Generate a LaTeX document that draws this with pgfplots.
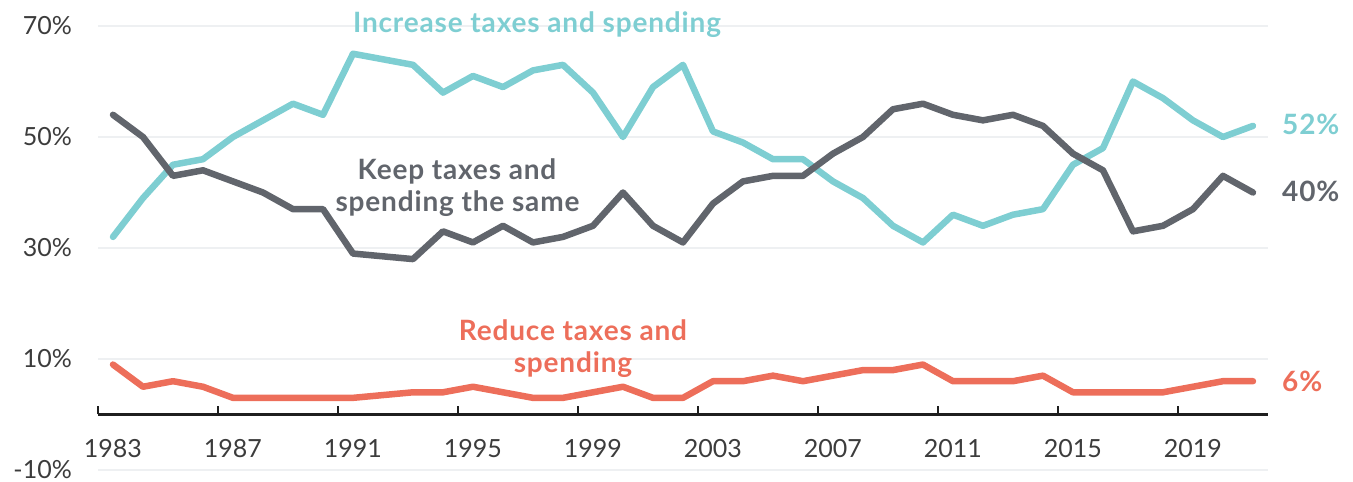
\documentclass[border=0pt]{standalone}
\usepackage{fontspec}
\setmainfont{Lato}
\usepackage{pgfplots}
\usepackage{pgfplotstable}
\pgfplotsset{compat=1.18}
\definecolor{incC}{HTML}{7ECED2}
\definecolor{keepC}{HTML}{61656C}
\definecolor{redC}{HTML}{ED6E5A}
\definecolor{gridC}{HTML}{EEF0F2}
\definecolor{tickC}{HTML}{3C3C3C}

\pgfplotstableread{
year inc keep red
1983 32 54 9
1984 39 50 5
1985 45 43 6
1986 46 44 5
1987 50 42 3
1988 53 40 3
1989 56 37 3
1990 54 37 3
1991 65 29 3
1992 64 28.5 3.5
1993 63 28 4
1994 58 33 4
1995 61 31 5
1996 59 34 4
1997 62 31 3
1998 63 32 3
1999 58 34 4
2000 50 40 5
2001 59 34 3
2002 63 31 3
2003 51 38 6
2004 49 42 6
2005 46 43 7
2006 46 43 6
2007 42 47 7
2008 39 50 8
2009 34 55 8
2010 31 56 9
2011 36 54 6
2012 34 53 6
2013 36 54 6
2014 37 52 7
2015 45 47 4
2016 48 44 4
2017 60 33 4
2018 57 34 4
2019 53 37 5
2020 50 43 6
2021 52 40 6
}\data

\begin{document}
\begin{tikzpicture}[x=1pt,y=1pt]
\useasboundingbox (0,0) rectangle (1353,482);
\begin{axis}[
  at={(98pt,12pt)}, anchor=south west,
  scale only axis, width=1170pt, height=444pt,
  xmin=1982.5, xmax=2021.5, ymin=-10, ymax=70,
  axis x line=middle, axis y line=left,
  x axis line style={-, line width=2.5pt, color=black!88},
  y axis line style={draw=none},
  xtick={1983,1987,...,2019},
  xticklabels={1983,1987,1991,1995,1999,2003,2007,2011,2015,2019},
  major tick length=0pt,
  extra x ticks={1982.5,1986.5,...,2018.5},
  extra x tick labels={},
  extra x tick style={major tick length=8pt, tick align=inside, tick style={line width=2pt, color=black!88}},
  x tick label style={anchor=base, inner sep=0pt, yshift=-43.5pt, text=tickC, font=\fontsize{25}{30}\selectfont},
  ytick={-10,10,30,50,70},
  yticklabels={-10\%,10\%,30\%,50\%,70\%},
  y tick label style={anchor=east, inner sep=0pt, xshift=-26pt, text=tickC, font=\fontsize{25}{30}\selectfont},
  ymajorgrids=true,
  major grid style={color=gridC, line width=2pt},
  clip=false,
]
\addplot[incC, line width=6.5pt, line join=round, line cap=round] table[x=year, y=inc] {\data};
\addplot[keepC, line width=6.5pt, line join=round, line cap=round] table[x=year, y=keep] {\data};
\addplot[redC, line width=6.5pt, line join=round, line cap=round] table[x=year, y=red] {\data};
\end{axis}
\newfontfamily\labfont[LetterSpace=3.0]{Lato}
\begin{scope}[font=\labfont\fontsize{28}{33}\bfseries\selectfont]
\node[anchor=base, inner sep=0pt, text=incC] at (537,449) {Increase taxes and spending};
\node[anchor=base, inner sep=0pt, text=keepC] at (457,302) {Keep taxes and};
\node[anchor=base, inner sep=0pt, text=keepC] at (457.5,270) {spending the same};
\node[anchor=base, inner sep=0pt, text=redC] at (573,141) {Reduce taxes and};
\node[anchor=base, inner sep=0pt, text=redC] at (573,109) {spending};
\node[anchor=base west, inner sep=0pt, text=incC] at (1282,347) {52\%};
\node[anchor=base west, inner sep=0pt, text=keepC] at (1282,280) {40\%};
\node[anchor=base west, inner sep=0pt, text=redC] at (1282,90) {6\%};
\end{scope}
\end{tikzpicture}
\end{document}
